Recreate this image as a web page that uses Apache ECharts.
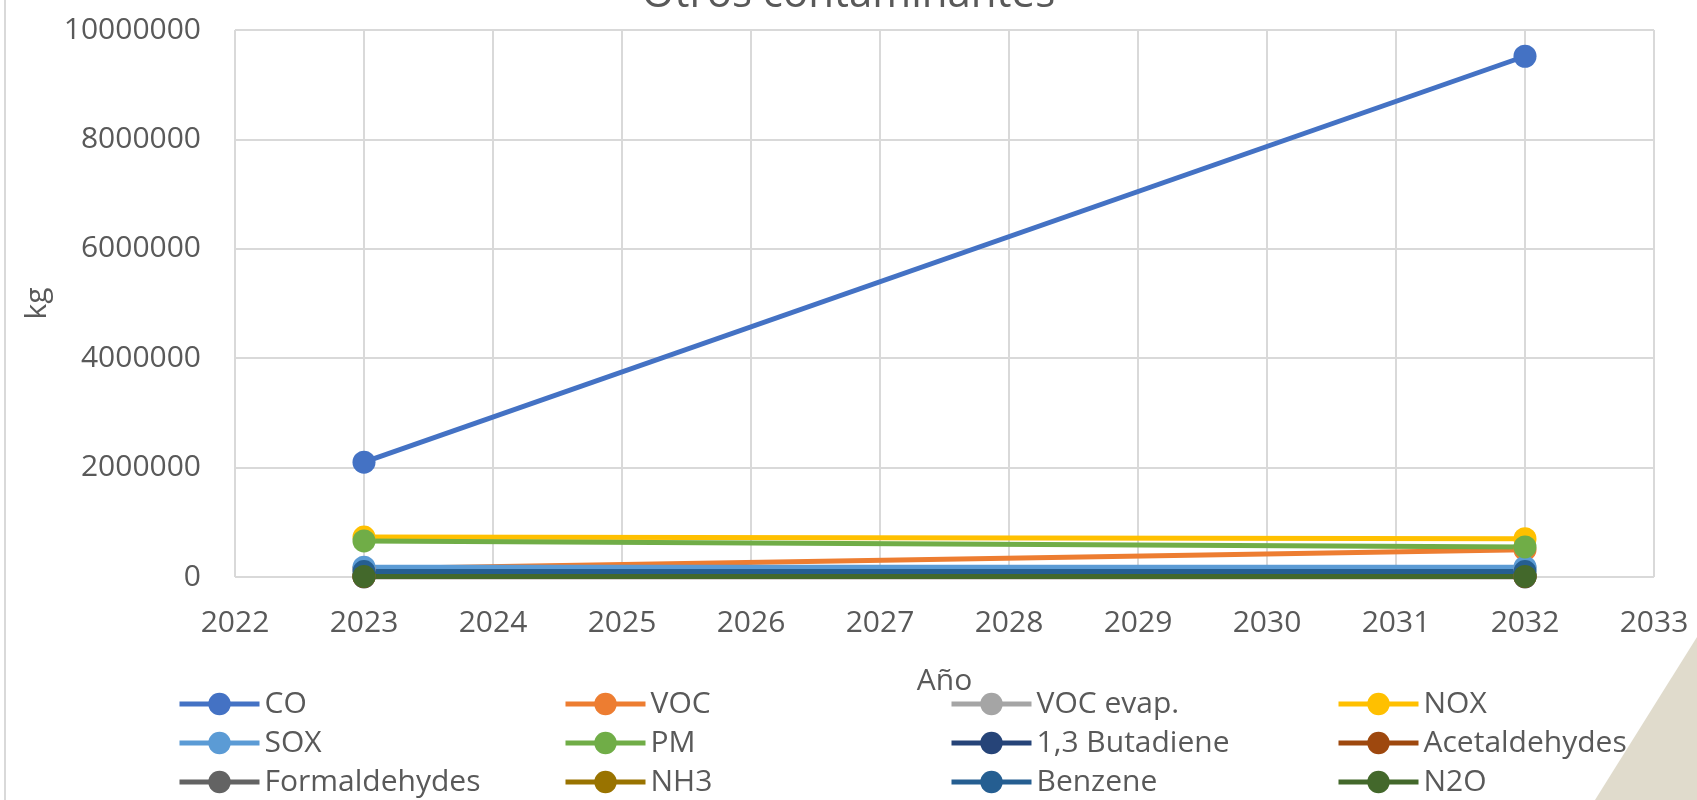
<!DOCTYPE html>
<html>
<head>
<meta charset="utf-8">
<script src="https://cdn.jsdelivr.net/npm/echarts@6/dist/echarts.min.js"></script>
<style>
  html, body { margin: 0; padding: 0; background: #ffffff; }
  #chart { width: 1697px; height: 800px; }
</style>
</head>
<body>
<div id="chart"></div>
<script>
// Years on the horizontal axis
const years = [2023, 2032];

// Emissions per pollutant (kg), one value per year
const pollutants = ['CO', 'VOC', 'VOC evap.', 'NOX', 'SOX', 'PM', '1,3 Butadiene', 'Acetaldehydes', 'Formaldehydes', 'NH3', 'Benzene', 'N2O'];
const CO = [2100000, 9520000];
const VOC = [150000, 500000];
const VOC_evap = [150000, 160000];
const NOX = [730000, 700000];
const SOX = [180000, 180000];
const PM = [660000, 550000];
const Butadiene = [3000, 3000];
const Acetaldehydes = [6000, 6000];
const Formaldehydes = [30000, 30000];
const NH3 = [20000, 20000];
const Benzene = [100000, 100000];
const N2O = [10000, 10000];

const seriesValues = [CO, VOC, VOC_evap, NOX, SOX, PM, Butadiene, Acetaldehydes, Formaldehydes, NH3, Benzene, N2O];
const palette = ['#4472C4', '#ED7D31', '#A5A5A5', '#FFC000', '#5B9BD5', '#70AD47', '#264478', '#9E480E', '#636363', '#997300', '#255E91', '#43682B'];

// Axis ranges and tick step
const xMin = 2022, xMax = 2033, xStep = 1;
const yMin = 0, yMax = 10000000, yStep = 2000000;

const textGray = '#595959';
const gridGray = '#D9D9D9';
const tickFont = 'Open Sans, Noto Sans, sans-serif';
const legendFont = 'Open Sans, Noto Sans, sans-serif';

const series = pollutants.map((name, i) => ({
  name: name,
  type: 'line',
  data: years.map((y, j) => [y, seriesValues[i][j]]),
  symbol: 'circle',
  symbolSize: 23,
  color: palette[i],
  lineStyle: { width: 5, color: palette[i] },
  itemStyle: { color: palette[i] },
  emphasis: { disabled: true },
  animation: false
}));

// Legend laid out in four columns, three rows
const columns = [
  { left: 177, names: [pollutants[0], pollutants[4], pollutants[8]] },
  { left: 563, names: [pollutants[1], pollutants[5], pollutants[9]] },
  { left: 949, names: [pollutants[2], pollutants[6], pollutants[10]] },
  { left: 1336, names: [pollutants[3], pollutants[7], pollutants[11]] }
];
const legends = columns.map(c => ({
  data: c.names,
  orient: 'vertical',
  left: c.left,
  top: 689,
  height: 140,
  itemWidth: 80,
  itemHeight: 28,
  itemGap: 9,
  padding: 0,
  selectedMode: false,
  lineStyle: { width: 5 },
  textStyle: { fontFamily: legendFont, fontSize: 30, color: textGray, lineHeight: 28 }
}));

const chart = echarts.init(document.getElementById('chart'), null, { renderer: 'canvas' });
chart.setOption({
  backgroundColor: '#ffffff',
  animation: false,
  grid: { left: 235, right: 43, top: 30, bottom: 223, containLabel: false },
  legend: legends,
  xAxis: {
    type: 'value',
    min: xMin, max: xMax, interval: xStep,
    name: 'Año',
    nameLocation: 'middle',
    nameGap: 89,
    nameTextStyle: { fontFamily: tickFont, fontSize: 30, color: textGray },
    axisLine: { show: false },
    axisTick: { show: false },
    axisLabel: { fontFamily: tickFont, fontSize: 30, color: textGray, margin: 31, formatter: v => String(v) },
    splitLine: { show: true, lineStyle: { color: gridGray, width: 2 } }
  },
  yAxis: {
    type: 'value',
    min: yMin, max: yMax, interval: yStep,
    name: 'kg',
    nameLocation: 'middle',
    nameRotate: 90,
    nameGap: 182,
    nameTextStyle: { fontFamily: tickFont, fontSize: 30, color: textGray },
    axisLine: { show: false },
    axisTick: { show: false },
    axisLabel: { fontFamily: tickFont, fontSize: 30, color: textGray, margin: 34, formatter: v => String(v) },
    splitLine: { show: true, lineStyle: { color: gridGray, width: 2 } }
  },
  series: series,
  graphic: [
    {
      type: 'text',
      left: 'center',
      top: -26,
      z: 10,
      style: {
        text: 'Otros contaminantes',
        font: '42px Open Sans, sans-serif',
        fill: textGray
      }
    },
    {
      type: 'line',
      z: 10,
      shape: { x1: 5, y1: 0, x2: 5, y2: 800 },
      style: { stroke: gridGray, lineWidth: 2 }
    },
    {
      type: 'polygon',
      z: 100,
      shape: { points: [[1595, 800], [1697, 637], [1697, 800]] },
      style: { fill: '#E0DBCC' }
    }
  ]
});
</script>
</body>
</html>
